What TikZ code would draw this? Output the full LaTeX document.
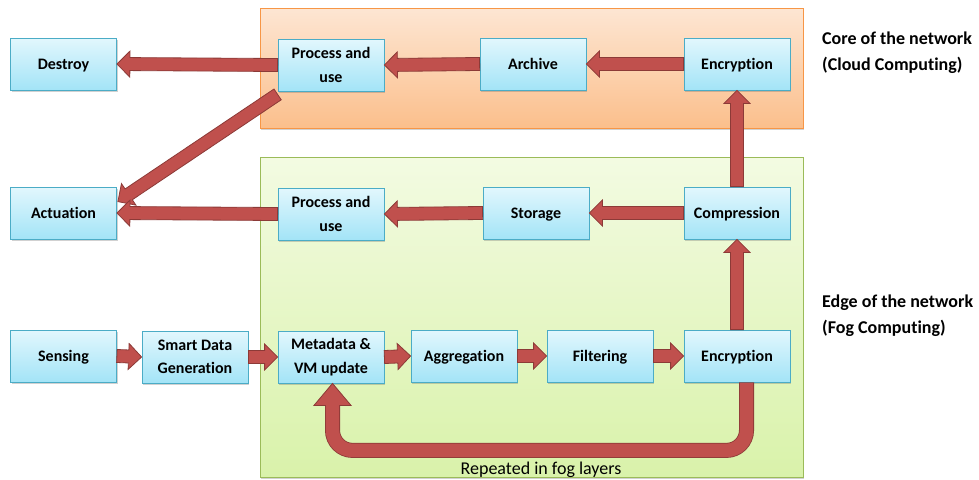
\documentclass[tikz,border=0pt]{standalone}
\usepackage{fontspec}
\setmainfont{Carlito}[Ligatures=NoCommon]
\usetikzlibrary{calc,shadows}

\definecolor{arrfill}{HTML}{C0504D}
\definecolor{arredge}{HTML}{8C3A37}
\definecolor{boxtop}{HTML}{E2F7FD}
\definecolor{boxbot}{HTML}{A3E4F7}
\definecolor{boxline}{HTML}{4BACC6}
\definecolor{coretop}{HTML}{FDE6D3}
\definecolor{corebot}{HTML}{FBBF8C}
\definecolor{coreline}{HTML}{F79646}
\definecolor{edgetop}{HTML}{F3FBE2}
\definecolor{edgebot}{HTML}{D9F2AA}
\definecolor{edgeline}{HTML}{9BBB59}

\tikzset{
  softshadow/.style={drop shadow={shadow xshift=1pt, shadow yshift=-1.5pt, opacity=0.3, fill=black!60}},
  stage/.style={draw=boxline, line width=0.8pt, top color=boxtop, bottom color=boxbot,
    minimum width=106pt, minimum height=52pt, inner sep=0pt, align=center,
    font=\bfseries\fontsize{16}{23.5}\selectfont, softshadow},
  oneline/.style={text height=13.3pt, text depth=3pt},
  twoline/.style={yshift=-1pt},
  layer/.style={line width=0.8pt, softshadow},
  sidelabel/.style={anchor=base west, inner sep=0pt, font=\bfseries\fontsize{18}{26}\selectfont},
  arrowbody/.style={draw=arredge, fill=arrfill, line width=0.8pt, line join=miter},
}

% straight block arrow from #1 to #2 (half shaft 6.5pt, half head 13pt, head length 13pt)
\newcommand\blockarrow[2]{%
  \path #1; \pgfgetlastxy{\baXa}{\baYa}%
  \path #2; \pgfgetlastxy{\baXb}{\baYb}%
  \pgfmathsetmacro\baAng{atan2(\baYb-\baYa,\baXb-\baXa)}%
  \pgfmathsetmacro\baLen{veclen(\baXb-\baXa,\baYb-\baYa)}%
  \begin{scope}[shift={(\baXa,\baYa)}, rotate=\baAng]
    \filldraw[arrowbody] (0pt,-6.5pt) -- (\baLen pt-13pt,-6.5pt) -- (\baLen pt-13pt,-13pt)
      -- (\baLen pt,0pt) -- (\baLen pt-13pt,13pt) -- (\baLen pt-13pt,6.5pt) -- (0pt,6.5pt) -- cycle;
  \end{scope}}

\begin{document}
\begin{tikzpicture}[x=1pt, y=-1pt]
\useasboundingbox (0,0) rectangle (979,479);

% network layers
\draw[layer, draw=coreline, top color=coretop, bottom color=corebot] (260,8) rectangle (803,128);
\draw[layer, draw=edgeline, top color=edgetop, bottom color=edgebot] (260,157) rectangle (803,477);

% stages
\node[stage, oneline] (destroy) at (63.5,64) {Destroy};
\node[stage, twoline] (puc) at (331,64) {Process and\\use};
\node[stage, oneline] (archive) at (533,64) {Archive};
\node[stage, oneline] (encc) at (737,64) {Encryption};

\node[stage, oneline] (act) at (63.5,213) {Actuation};
\node[stage, twoline] (pue) at (331,213) {Process and\\use};
\node[stage, oneline] (storage) at (536,213) {Storage};
\node[stage, oneline] (comp) at (737,213) {Compression};

\node[stage, oneline] (sense) at (63.5,356) {Sensing};
\node[stage, twoline] (smart) at (195,356) {Smart Data\\Generation};
\node[stage, twoline] (meta) at (331,356) {Metadata \&\\VM update};
\node[stage, oneline] (agg) at (464,356) {Aggregation};
\node[stage, oneline] (filt) at (600,356) {Filtering};
\node[stage, oneline] (ence) at (737,356) {Encryption};

% layer labels
\node[sidelabel] (core1) at (822,44) {Core of the network};
\node[sidelabel] (core2) at (822,70) {(Cloud Computing)};
\node[sidelabel] (edge1) at (822,307) {Edge of the network};
\node[sidelabel] (edge2) at (822,333) {(Fog Computing)};

% data flow
\blockarrow{(encc.west)}{(archive.east)}
\blockarrow{(archive.west)}{(puc.east)}
\blockarrow{(puc.west)}{(destroy.east)}
\blockarrow{($(puc.south west)+(0,3)$)}{($(act.north east)+(1,15)$)}
\blockarrow{(comp.west)}{(storage.east)}
\blockarrow{(storage.west)}{(pue.east)}
\blockarrow{(pue.west)}{(act.east)}
\blockarrow{(comp.north)}{(encc.south)}
\blockarrow{(ence.north)}{(comp.south)}
\blockarrow{(sense.east)}{(smart.west)}
\blockarrow{(smart.east)}{(meta.west)}
\blockarrow{(meta.east)}{(agg.west)}
\blockarrow{(agg.east)}{(filt.west)}
\blockarrow{(filt.east)}{(ence.west)}

% feedback loop through the fog layers
\coordinate (loopstart) at ($(ence.south)+(9.5,0)$);
\coordinate (loopend) at ($(meta.south)+(1.5,0)$);
\draw[arredge, line width=15pt, rounded corners=20pt]
  (loopstart) -- ++(0,68) -| ($(loopend)+(0,22)$);
\filldraw[arrowbody] ($(loopend)+(-18.5,22)$) -- (loopend) -- ($(loopend)+(18.5,22)$) -- cycle;
\draw[arrfill, line width=13.4pt, rounded corners=20pt]
  ($(loopstart)+(0,0.8)$) -- ++(0,67.2) -| ($(loopend)+(0,20)$);
\node[anchor=base, inner sep=0pt, font=\fontsize{18}{22}\selectfont] (repeat) at (541,474.5) {Repeated in fog layers};
\end{tikzpicture}
\end{document}
